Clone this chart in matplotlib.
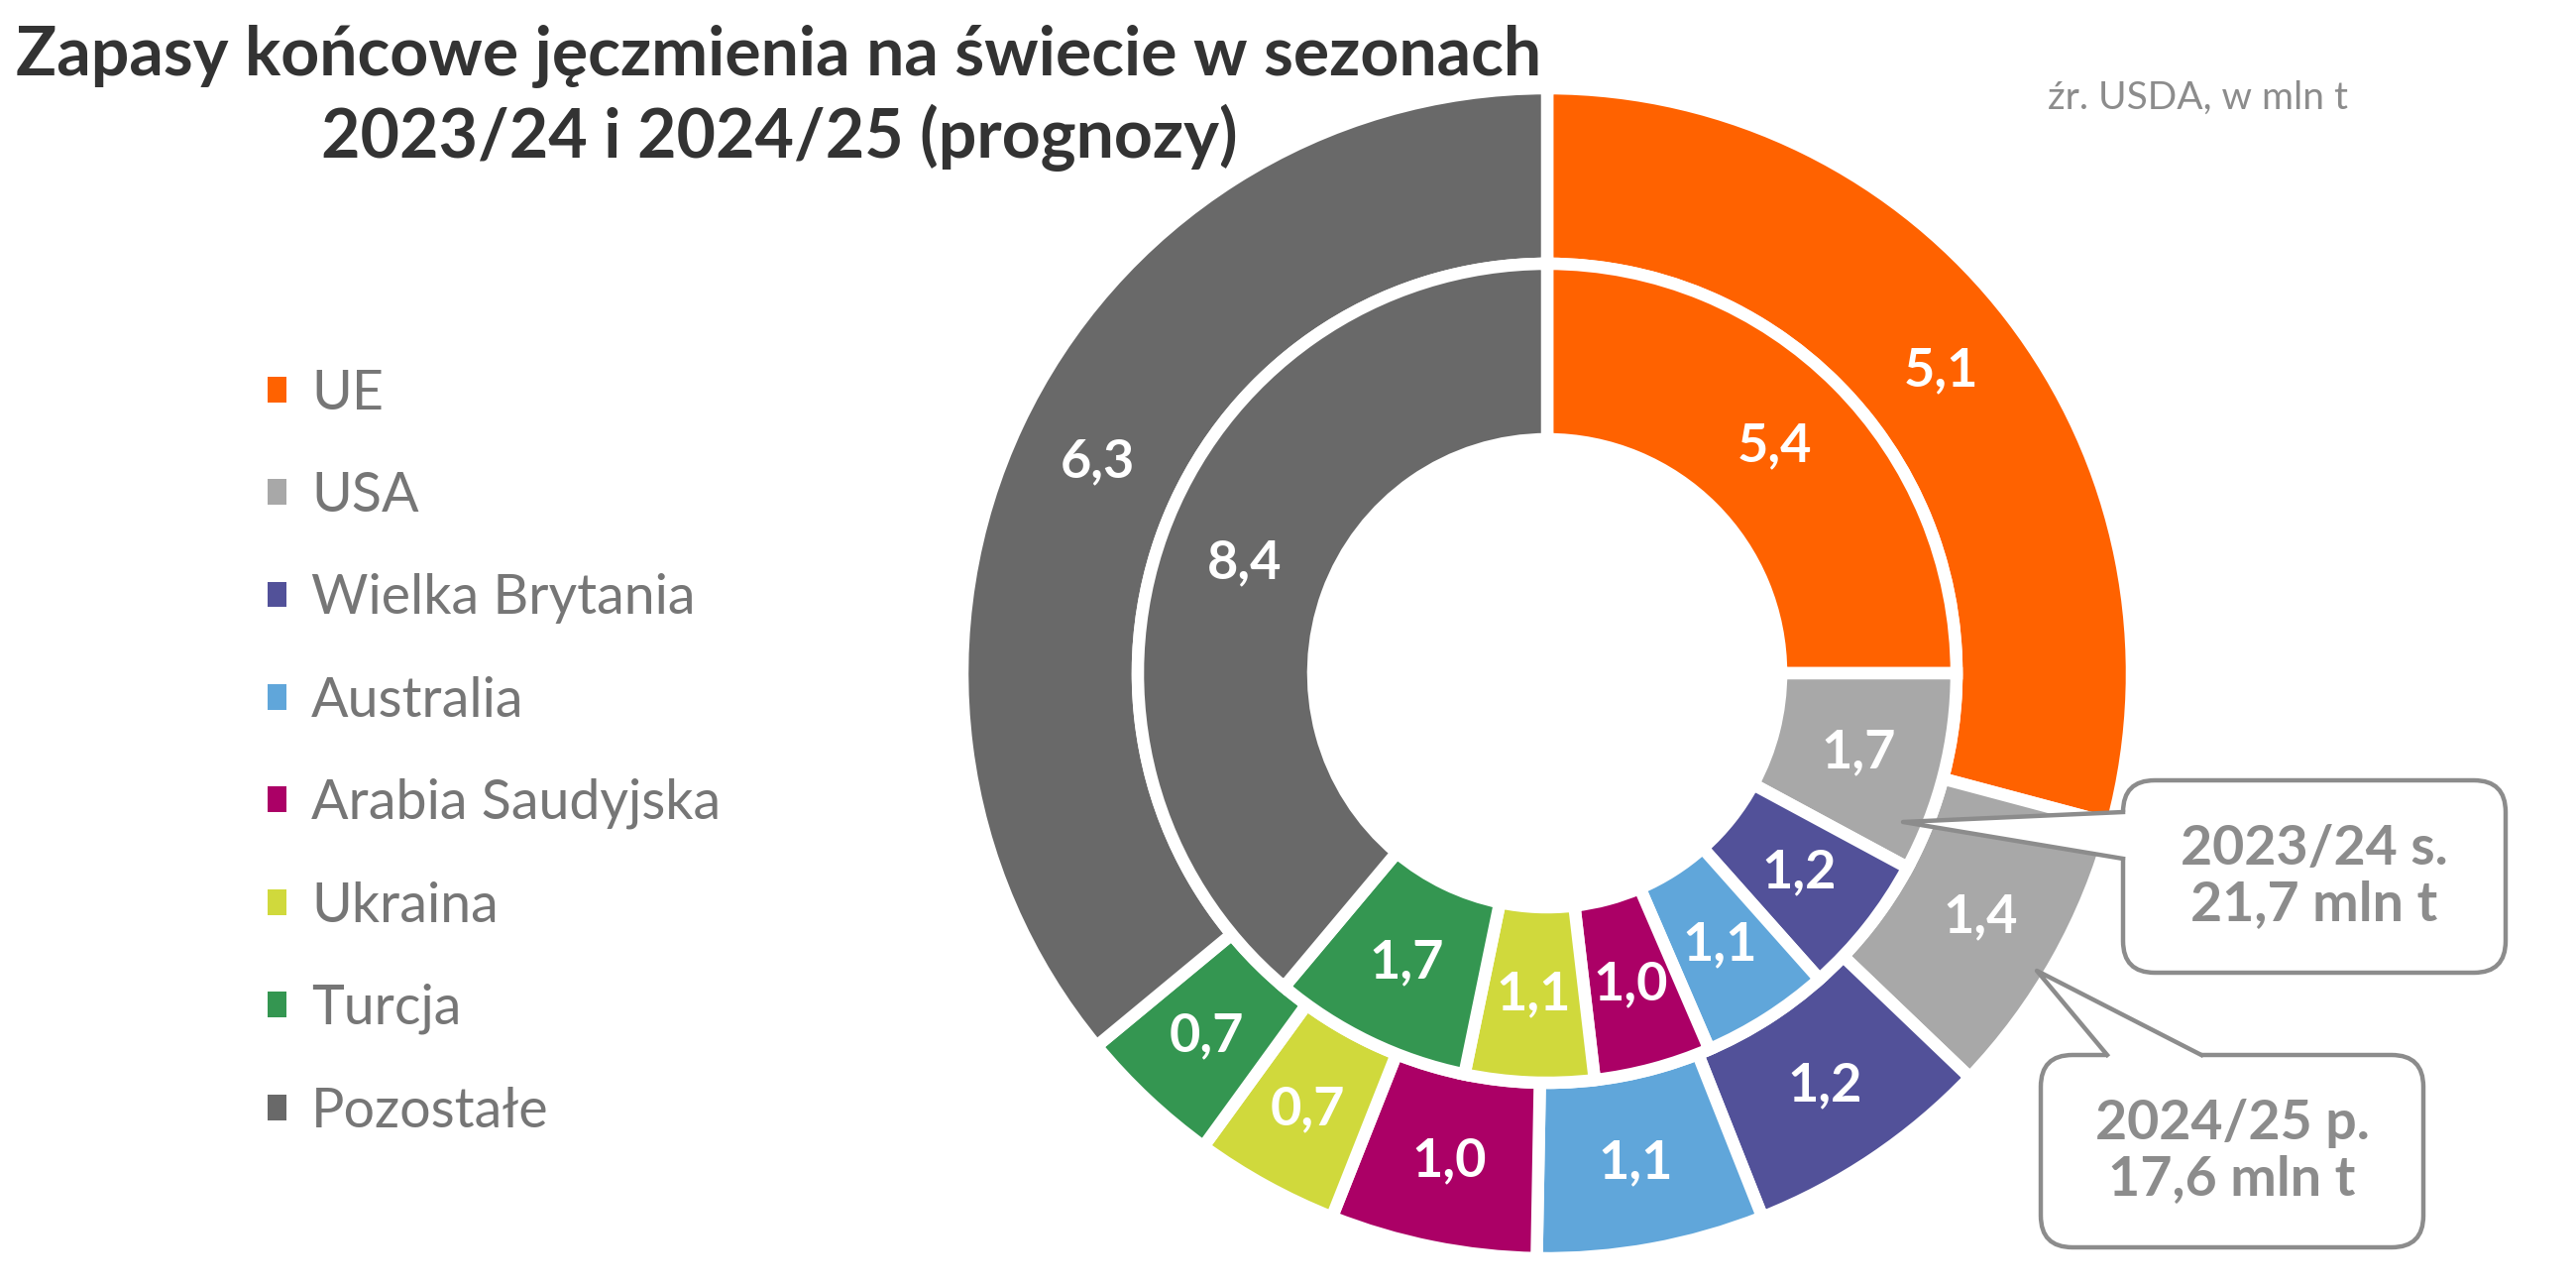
import numpy as np
import matplotlib
matplotlib.use('Agg')
import matplotlib.pyplot as plt
from matplotlib.patches import FancyBboxPatch, Polygon, Patch
from matplotlib.lines import Line2D

W, H = 2599, 1299

kraje = ['UE', 'USA', 'Wielka Brytania', 'Australia', 'Arabia Saudyjska',
         'Ukraina', 'Turcja', 'Pozostałe']
zapasy_2324 = [5.4, 1.7, 1.2, 1.1, 1.0, 1.1, 1.7, 8.4]
zapasy_2425 = [5.1, 1.4, 1.2, 1.1, 1.0, 0.7, 0.7, 6.3]
kolory = ['#FF6200', '#A8A8A8', '#525199', '#60A6DA', '#AB0066',
          '#D0D93C', '#349651', '#696969']
sezon_2324 = '2023/24 s.\n21,7 mln t'
sezon_2425 = '2024/25 p.\n17,6 mln t'
tytul = ['Zapasy końcowe jęczmienia na świecie w sezonach',
         '2023/24 i 2024/25 (prognozy)']
zrodlo = 'źr. USDA, w mln t'

SZARY = '#8C8C8C'

plt.rcParams['font.family'] = ['Lato', 'DejaVu Sans']

fig = plt.figure(figsize=(W / 100, H / 100), dpi=100)
ax = fig.add_axes([0, 0, 1, 1])

# srodek i promien w pikselach (y liczony od dolu)
cx, cy = 1561, H - 679
R = 590
ring = 0.30 * R
wp = dict(width=ring, edgecolor='white', linewidth=9)

zew, _ = ax.pie(zapasy_2425, radius=R, center=(cx, cy), startangle=90,
                counterclock=False, colors=kolory, wedgeprops=wp)
wew, _ = ax.pie(zapasy_2324, radius=R - ring, center=(cx, cy), startangle=90,
                counterclock=False, colors=kolory, wedgeprops=wp)

ax.set_xlim(0, W)
ax.set_ylim(0, H)
ax.set_axis_off()


def podpisy(wedges, vals, r):
    for w, v in zip(wedges, vals):
        th = np.deg2rad((w.theta1 + w.theta2) / 2)
        ax.text(cx + r * np.cos(th), cy + r * np.sin(th),
                f'{v:.1f}'.replace('.', ','), ha='center', va='center',
                color='white', fontsize=39, fontweight='bold', zorder=4)


podpisy(wew, zapasy_2324, R - 1.5 * ring)
podpisy(zew, zapasy_2425, R - 0.5 * ring)

# tytul i zrodlo
ax.text(786, H - 76, tytul[0], ha='center', va='baseline', fontsize=49,
        fontweight='bold', color='#333333')
ax.text(786, H - 159, tytul[1], ha='center', va='baseline', fontsize=49,
        fontweight='bold', color='#333333')
ax.text(2369, H - 110, zrodlo, ha='right', va='baseline', fontsize=28,
        fontweight='normal', color=SZARY)

# legenda
uchwyty = [Patch(facecolor=c, edgecolor='none') for c in kolory]
leg = ax.legend(uchwyty, kraje, loc='upper left',
                bbox_to_anchor=(270 / W, 1 - 372 / H), frameon=False,
                fontsize=40, handlelength=0.34, handleheight=0.34,
                handletextpad=0.45, labelspacing=0.94, borderpad=0,
                borderaxespad=0)
for t in leg.get_texts():
    t.set_color('#767676')


def dymek(x0, y0, x1, y1, tip, b1, b2, inward, tekst):
    box = FancyBboxPatch((x0, H - y1), x1 - x0, y1 - y0,
                         boxstyle='round,pad=0,rounding_size=32',
                         fc='white', ec=SZARY, lw=3.2, zorder=5)
    ax.add_patch(box)
    dx, dy = inward
    pts = [(tip[0], H - tip[1]), (b1[0], H - b1[1]),
           (b1[0] + dx, H - b1[1] - dy), (b2[0] + dx, H - b2[1] - dy),
           (b2[0], H - b2[1])]
    ax.add_patch(Polygon(pts, closed=True, fc='white', ec='none', zorder=6))
    ax.add_line(Line2D([b1[0], tip[0], b2[0]],
                       [H - b1[1], H - tip[1], H - b2[1]],
                       color=SZARY, lw=3.2, zorder=7))
    ax.text((x0 + x1) / 2, H - (y0 + y1) / 2, tekst, ha='center',
            va='center', fontsize=40, fontweight='bold', color=SZARY,
            linespacing=1.15, zorder=8)


dymek(2142, 787, 2528, 981, (1920, 829), (2142, 819), (2142, 866), (6, 0),
      sezon_2324)
dymek(2059, 1064, 2445, 1258, (2055, 979), (2126, 1064), (2221, 1064), (0, 6),
      sezon_2425)

fig.savefig('out.png', dpi=100)
